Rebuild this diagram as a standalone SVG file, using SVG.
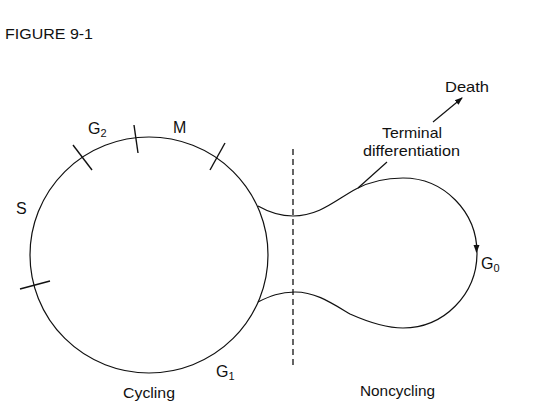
<svg xmlns="http://www.w3.org/2000/svg" width="534" height="402" viewBox="0 0 534 402">
<style>
.ln{fill:none;stroke:#111;stroke-width:1.2}
.tk{stroke:#111;stroke-width:1.4}
.t{font-family:"Liberation Sans",Arial,sans-serif;font-size:15px;fill:#111}
.L{font-family:"Liberation Sans",Arial,sans-serif;font-size:16px;fill:#111}
.s{font-family:"Liberation Sans",Arial,sans-serif;font-size:11px;fill:#111}
.fig{font-family:"Liberation Sans",Arial,sans-serif;font-size:15px;fill:#111}
</style>
<defs>
<marker id="ah" markerWidth="8" markerHeight="8" refX="7" refY="4" orient="auto" markerUnits="userSpaceOnUse">
<path d="M0,1 L8,4 L0,7 Z" fill="#111"/>
</marker>
</defs>
<rect width="534" height="402" fill="#fff"/>
<text class="fig" x="5" y="39" textLength="88" lengthAdjust="spacingAndGlyphs">FIGURE 9-1</text>

<g id="cycle">
<ellipse class="ln" cx="149" cy="255" rx="119" ry="118"/>
<line class="tk" x1="73" y1="145" x2="92" y2="170"/>
<line class="tk" x1="134" y1="125" x2="138" y2="153"/>
<line class="tk" x1="225" y1="143" x2="210" y2="170"/>
<line class="tk" x1="20" y1="289" x2="50" y2="281"/>
</g>

<g id="labels">
<text class="L" x="88" y="134">G<tspan class="s" dy="3">2</tspan></text>
<text class="L" x="173" y="133">M</text>
<text class="L" x="16" y="214">S</text>
<text class="L" x="216" y="377">G<tspan class="s" dy="3">1</tspan></text>
<text class="L" x="481" y="269">G<tspan class="s" dy="3">0</tspan></text>
<text class="t" x="123" y="398" textLength="52" lengthAdjust="spacingAndGlyphs">Cycling</text>
<text class="t" x="360" y="396" textLength="75" lengthAdjust="spacingAndGlyphs">Noncycling</text>
<text class="t" x="445" y="92" textLength="44" lengthAdjust="spacingAndGlyphs">Death</text>
<text class="t" x="382" y="138" textLength="60" lengthAdjust="spacingAndGlyphs">Terminal</text>
<text class="t" x="363" y="156" textLength="97" lengthAdjust="spacingAndGlyphs">differentiation</text>
</g>

<g id="connectors">
<line x1="293" y1="149" x2="293" y2="365" stroke="#111" stroke-width="1.3" stroke-dasharray="6,4"/>
<path class="ln" d="M258,206 C272,214 282,216 293,216 C320,216 337,199 356,189 C371,181 386,178 403,178 A74,75 0 0 1 403,328 C385,328 368,322 350,314 C330,302 315,292 295,292 C280,292 270,296 258,302"/>
<path class="ln" d="M476.5,244 L476.5,252" marker-end="url(#ah)"/>
<line class="ln" x1="433" y1="122" x2="462" y2="98" marker-end="url(#ah)"/>
<line class="ln" x1="387" y1="162" x2="358" y2="188"/>
</g>
</svg>
